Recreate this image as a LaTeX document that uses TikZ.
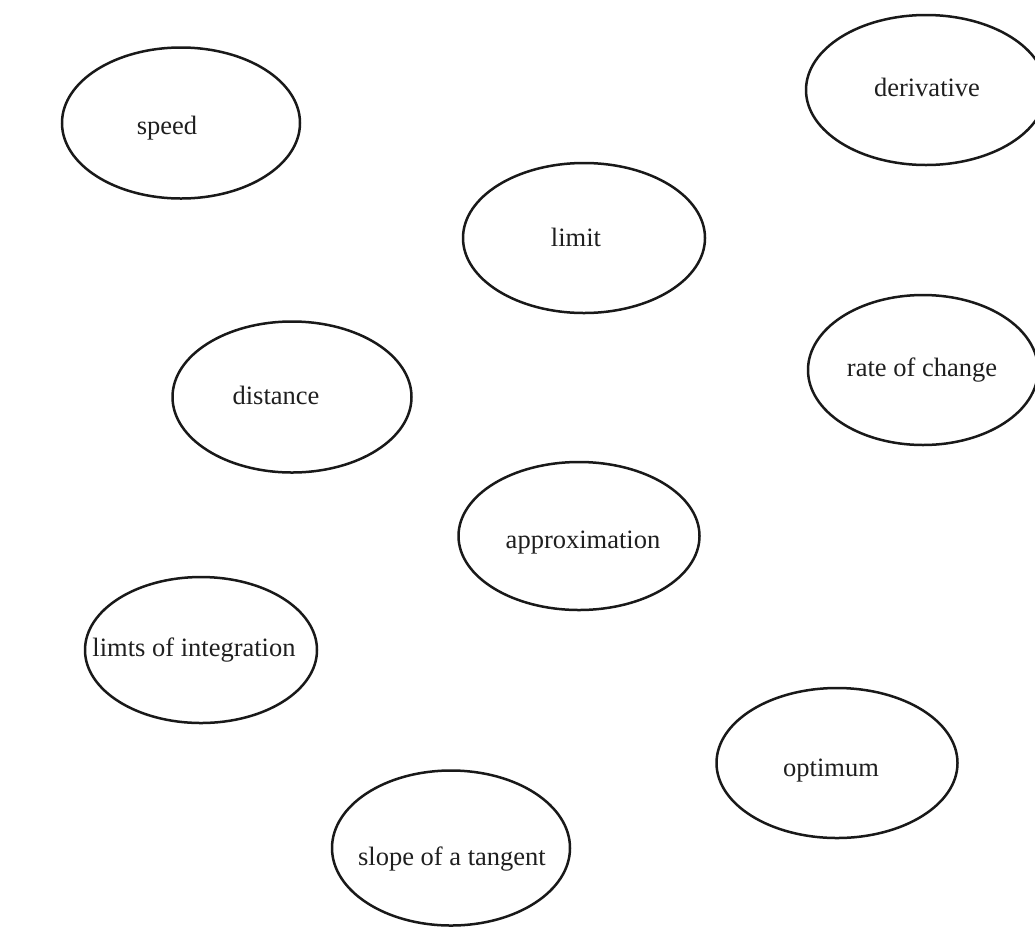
\documentclass[tikz,border=0pt]{standalone}
\usepackage{fontspec}
\setmainfont{Liberation Serif}
\usetikzlibrary{shapes.geometric}
\begin{document}
\begin{tikzpicture}[x=1pt,y=-1pt,
  bub/.style={draw=black!90, line width=2.5pt, ellipse, inner sep=0pt},
  lab/.style={font=\fontsize{26.5}{30}\selectfont, text=black!88, inner sep=0pt, text height=0.46em, text depth=0pt, yshift=-6pt}]
\useasboundingbox[fill=white] (0,0) rectangle (1035,927);
% ellipses
\node[bub, minimum width=238pt, minimum height=151pt] (speed) at (181,123) {};
\node[bub, minimum width=240pt, minimum height=150pt] (deriv) at (926,90) {};
\node[bub, minimum width=242pt, minimum height=150pt] (limit) at (584,238) {};
\node[bub, minimum width=230pt, minimum height=150pt] (rate) at (923,370) {};
\node[bub, minimum width=239pt, minimum height=151pt] (dist) at (292,397) {};
\node[bub, minimum width=241pt, minimum height=148pt] (approx) at (579,536) {};
\node[bub, minimum width=232pt, minimum height=146pt] (limts) at (201,650) {};
\node[bub, minimum width=241pt, minimum height=150pt] (opt) at (837,763) {};
\node[bub, minimum width=238pt, minimum height=155pt] (slope) at (451,848) {};
% labels
\node[lab] (speedt) at (167,126) {speed};
\node[lab] (derivt) at (927,88) {derivative};
\node[lab] (limitt) at (576,238) {limit};
\node[lab] (ratet) at (922,368) {rate of change};
\node[lab] (distt) at (276,396) {distance};
\node[lab] (approxt) at (583,540) {approximation};
\node[lab] (limtst) at (194,648) {limts of integration};
\node[lab] (optt) at (831,768) {optimum};
\node[lab] (slopet) at (452,857) {slope of a tangent};
\end{tikzpicture}
\end{document}
